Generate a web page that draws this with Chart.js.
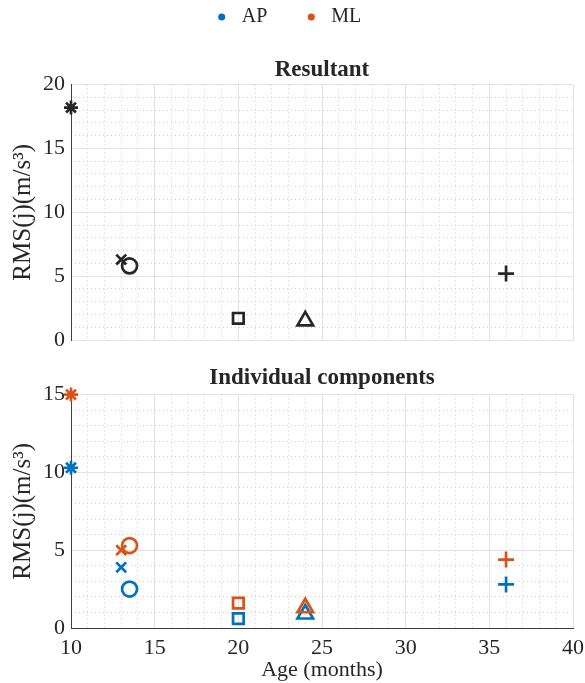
<!DOCTYPE html>
<html>
<head>
<meta charset="utf-8">
<script src="https://cdn.jsdelivr.net/npm/chart.js@4.4.0/dist/chart.umd.min.js"></script>
<style>
html,body{margin:0;padding:0;background:#fff;}
#wrap{position:relative;width:585px;height:683px;overflow:hidden;}
#c1{position:absolute;left:0;top:0;}
#c2{position:absolute;left:0;top:355px;}
</style>
</head>
<body>
<div id="wrap">
<canvas id="c2" width="585" height="328"></canvas>
<canvas id="c1" width="585" height="362"></canvas>
</div>
<script>
// ---- data ----
const ages = [10, 13, 13.5, 20, 24, 36];
const resultantValues = [18.2, 6.3, 5.8, 1.7, 1.5, 5.2];
const apValues = [10.3, 3.9, 2.5, 0.6, 0.9, 2.8];
const mlValues = [15.0, 5.0, 5.3, 1.6, 1.3, 4.4];
const markerStyles = ['star', 'crossRot', 'circle', 'rect', 'triangle', 'cross'];
const seriesNames = ['AP', 'ML'];
const topTitle = 'Resultant';
const bottomTitle = 'Individual components';
const xLabel = 'Age (months)';
const yLabel = 'RMS(j)(m/s³)';

// ---- styles ----
const FONT = "'Liberation Serif', 'DejaVu Serif', serif";
const BLUE = '#0072BD', ORANGE = '#D95319', BLACK = '#262626';
const MAJOR = '#e2e2e2', MINOR = '#cfcfcf';
const radiusFor = {star: 7, crossRot: 7, circle: 7.5, rect: 7.5, triangle: 9, cross: 8};

function pts(vals) { return ages.map((a, i) => ({x: a, y: vals[i]})); }
function ds(label, vals, color, order) {
  return {
    label: label, data: pts(vals), order: order,
    showLine: false, clip: false,
    pointStyle: markerStyles,
    pointRadius: markerStyles.map(s => radiusFor[s]),
    pointHoverRadius: markerStyles.map(s => radiusFor[s]),
    pointBorderWidth: 2.7, pointHoverBorderWidth: 2.7,
    borderColor: color, backgroundColor: 'rgba(0,0,0,0)',
    pointBackgroundColor: 'rgba(0,0,0,0)'
  };
}

function minorGrid(ctx) {
  return (ctx.tick && Math.abs(ctx.tick.value % 5) < 1e-9) ? 'rgba(0,0,0,0)' : MINOR;
}

function makeScales(yMax, showX) {
  return {
    xMinor: {
      type: 'linear', min: 10, max: 40, position: 'bottom',
      ticks: {stepSize: 1, display: false},
      grid: {color: minorGrid, drawTicks: false, lineWidth: 1, borderDash: [1, 3]},
      border: {display: false, dash: [1, 3]}
    },
    yMinor: {
      type: 'linear', min: 0, max: yMax, position: 'left',
      ticks: {stepSize: 1, display: false},
      grid: {color: minorGrid, drawTicks: false, lineWidth: 1, borderDash: [1, 3]},
      border: {display: false, dash: [1, 3]},
      afterFit(s) { s.width = 0; }
    },
    x: {
      type: 'linear', min: 10, max: 40, position: 'bottom',
      ticks: {stepSize: 5, display: showX, color: BLACK, padding: 7, maxRotation: 0,
              font: {family: FONT, size: 22}},
      grid: {color: MAJOR, drawTicks: false, lineWidth: 1},
      border: {display: true, color: showX ? '#404040' : MAJOR, width: 1},
      title: {display: showX, text: xLabel, color: BLACK, padding: {top: 0, bottom: 0},
              font: {family: FONT, size: 22}},
      afterFit(s) { s.height = showX ? 55 : 0; s.paddingRight = 0; s.paddingLeft = 0; }
    },
    y: {
      type: 'linear', min: 0, max: yMax, position: 'left',
      ticks: {stepSize: 5, color: BLACK, padding: 6, font: {family: FONT, size: 22}},
      grid: {color: MAJOR, drawTicks: false, lineWidth: 1},
      border: {display: true, color: '#404040', width: 1},
      title: {display: true, text: yLabel, color: BLACK, padding: {top: 8, bottom: 0},
              font: {family: FONT, size: 25}},
      afterFit(s) { s.width = 71; }
    }
  };
}

const LEG_PAD = 34;

new Chart(document.getElementById('c1'), {
  type: 'scatter',
  data: {datasets: [ds(topTitle, resultantValues, BLACK, 1)]},
  options: {
    responsive: false, animation: false, devicePixelRatio: 1,
    layout: {padding: {left: 0, right: 12, top: 7 - LEG_PAD, bottom: 22}},
    plugins: {
      tooltip: {enabled: false},
      legend: {
        display: true, position: 'top', align: 'center', weight: 1000,
        labels: {
          usePointStyle: true, boxWidth: 24, boxHeight: 5, padding: LEG_PAD,
          color: BLACK, font: {family: FONT, size: 20},
          generateLabels: () => seriesNames.map((n, i) => ({
            text: n, fillStyle: i === 0 ? BLUE : ORANGE, strokeStyle: i === 0 ? BLUE : ORANGE,
            lineWidth: 0, pointStyle: 'circle', hidden: false, datasetIndex: i, fontColor: BLACK
          }))
        }
      },
      title: {
        display: true, text: topTitle, fullSize: false, color: BLACK, weight: 500,
        font: {family: FONT, size: 23, weight: 'bold'},
        padding: {top: 19, bottom: 1}
      }
    },
    scales: makeScales(20, false)
  }
});

new Chart(document.getElementById('c2'), {
  type: 'scatter',
  data: {datasets: [ds(seriesNames[0], apValues, BLUE, 2), ds(seriesNames[1], mlValues, ORANGE, 1)]},
  options: {
    responsive: false, animation: false, devicePixelRatio: 1,
    layout: {padding: {left: 0, right: 12, top: 0, bottom: 0}},
    plugins: {
      tooltip: {enabled: false},
      legend: {display: false},
      title: {
        display: true, text: bottomTitle, fullSize: false, color: BLACK,
        font: {family: FONT, size: 23, weight: 'bold'},
        padding: {top: 9, bottom: 3}
      }
    },
    scales: makeScales(15, true)
  }
});
</script>
</body>
</html>
